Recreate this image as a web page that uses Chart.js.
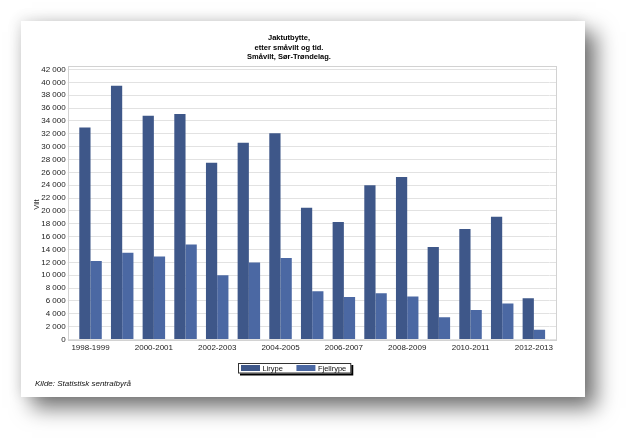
<!DOCTYPE html>
<html>
<head>
<meta charset="utf-8">
<script src="https://cdn.jsdelivr.net/npm/chart.js@4.4.1/dist/chart.umd.min.js"></script>
<style>
  html, body { margin: 0; padding: 0; background: #ffffff; width: 627px; height: 439px; overflow: hidden; }
  #card {
    position: absolute; left: 21px; top: 21px; width: 564px; height: 376px;
    background: #ffffff;
    box-shadow: 11px 11px 20px rgba(0,0,0,0.55), -2px -2px 12px rgba(0,0,0,0.10);
  }
  #c { position: absolute; left: 0; top: 0; }
  #src {
    position: absolute; left: 14px; top: 358px;
    font: italic 8px "Liberation Sans", Arial, sans-serif; color: #111;
    white-space: nowrap;
  }
</style>
</head>
<body>
<div id="card">
  <canvas id="c" width="547" height="376"></canvas>
  <div id="src">Kilde: Statistisk sentralbyrå</div>
</div>
<script>
const categories = ['1998-1999','1999-2000','2000-2001','2001-2002','2002-2003','2003-2004','2004-2005','2005-2006','2006-2007','2007-2008','2008-2009','2009-2010','2010-2011','2011-2012','2012-2013'];
const lirype = [33000, 39500, 34800, 35100, 27500, 30600, 32100, 20500, 18300, 24000, 25300, 14400, 17200, 19100, 6400];
const fjellrype = [12200, 13500, 12900, 14800, 10000, 12000, 12700, 7500, 6600, 7200, 6700, 3450, 4600, 5600, 1500];
const seriesNames = ['Lirype', 'Fjellrype'];
const titleLines = ['Jaktutbytte,', 'etter småvilt og tid.', 'Småvilt, Sør-Trøndelag.'];
const yTitle = 'Vilt';
const colors = ['#3e5789', '#4b68a3'];

const FONT = '"Liberation Sans", Arial, sans-serif';
const fmt = v => String(v).replace(/\B(?=(\d{3})+(?!\d))/g, ' ');

const framePlugin = {
  id: 'frame',
  beforeDatasetsDraw(chart) {
    const a = chart.chartArea, ctx = chart.ctx;
    ctx.save();
    ctx.strokeStyle = '#d2d2d2';
    ctx.lineWidth = 1;
    const l = Math.round(a.left - 6.7) + 0.5, r = Math.round(a.right + 7.3) - 0.5;
    const t = Math.round(a.top - 3.5) + 0.5, b = Math.round(a.bottom) + 0.5;
    ctx.strokeRect(l, t, r - l, b - t);
    ctx.restore();
  }
};

const legendPlugin = {
  id: 'boxLegend',
  afterDraw(chart) {
    const ctx = chart.ctx;
    ctx.save();
    ctx.font = '7.5px ' + FONT;
    const ds = chart.data.datasets;
    const sw = 19, sh = 6, gap = 2.5, itemGap = 13.5, padL = 3, padR = 5;
    const widths = ds.map(d => ctx.measureText(d.label).width);
    let total = padL + padR;
    widths.forEach((w, i) => { total += sw + gap + w + (i < widths.length - 1 ? itemGap : 0); });
    const cx = chart.width / 2;
    const top = 342, h = 10.5;
    const left = Math.round(cx - total / 2);
    ctx.fillStyle = '#000';
    ctx.fillRect(left + 2, top + 2, total, h);
    ctx.fillStyle = '#fff';
    ctx.fillRect(left, top, total, h);
    ctx.strokeStyle = '#333';
    ctx.lineWidth = 1;
    ctx.strokeRect(left + 0.5, top + 0.5, total - 1, h - 1);
    let x = left + padL;
    const cy = top + h / 2;
    ds.forEach((d, i) => {
      ctx.fillStyle = d.backgroundColor;
      ctx.fillRect(x, Math.round(cy - sh / 2), sw, sh);
      x += sw + gap;
      ctx.fillStyle = '#111';
      ctx.textBaseline = 'middle';
      ctx.textAlign = 'left';
      ctx.fillText(d.label, x, cy + 0.5);
      x += widths[i] + itemGap;
    });
    ctx.restore();
  }
};

new Chart(document.getElementById('c'), {
  type: 'bar',
  data: {
    labels: categories,
    datasets: [
      { label: seriesNames[0], data: lirype, backgroundColor: colors[0], borderWidth: 0 },
      { label: seriesNames[1], data: fjellrype, backgroundColor: colors[1], borderWidth: 0 }
    ]
  },
  options: {
    responsive: false,
    devicePixelRatio: 1,
    animation: false,
    categoryPercentage: 0.71,
    barPercentage: 1.0,
    layout: { padding: { left: 0, right: 11, top: 0, bottom: 45.5 } },
    plugins: {
      legend: { display: false },
      tooltip: { enabled: false },
      title: {
        display: true,
        text: titleLines,
        color: '#000',
        font: { family: FONT, size: 7.5, weight: 'bold', lineHeight: 1.27 },
        padding: { top: 12.5, bottom: 7.5 }
      }
    },
    scales: {
      x: {
        type: 'category',
        grid: { display: false, drawTicks: false },
        border: { display: false },
        ticks: {
          autoSkip: false, maxRotation: 0, minRotation: 0, padding: 3,
          color: '#222', font: { family: FONT, size: 8 },
          callback: function(v, i) { return i % 2 === 0 ? this.getLabelForValue(v) : ''; }
        },
        afterFit(s) { s.height = 12; }
      },
      y: {
        min: 0, max: 42000,
        ticks: {
          stepSize: 2000, autoSkip: false, padding: 2,
          color: '#222', font: { family: FONT, size: 8 },
          callback: v => fmt(v)
        },
        grid: { color: '#e2e2e2', lineWidth: 1, drawTicks: true, tickLength: 7, tickColor: '#e2e2e2' },
        border: { display: false },
        title: {
          display: true, text: yTitle, color: '#222',
          font: { family: FONT, size: 7.5 }, padding: { top: 11.5, bottom: 0 }
        },
        afterFit(s) { s.width = 53.7; }
      },
      y2: {
        position: 'right',
        min: 0, max: 42000,
        ticks: { stepSize: 2000, display: false, autoSkip: false },
        grid: { drawOnChartArea: false, color: '#e2e2e2', drawTicks: true, tickLength: 7, tickColor: '#e2e2e2' },
        border: { display: false },
        afterFit(s) { s.width = 7.3; }
      }
    }
  },
  plugins: [framePlugin, legendPlugin]
});
</script>
</body>
</html>
